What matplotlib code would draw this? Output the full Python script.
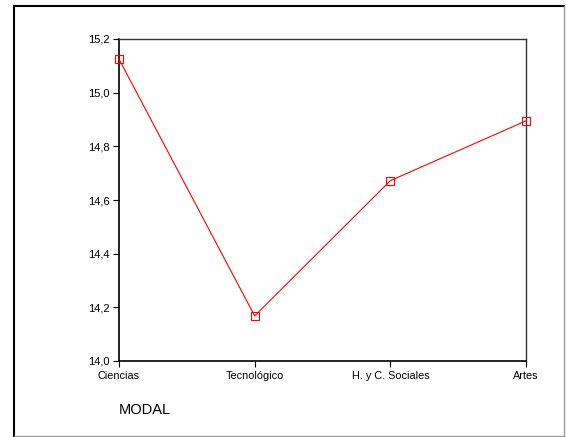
import matplotlib.pyplot as plt
from matplotlib.lines import Line2D

categorias = ["Ciencias", "Tecnológico", "H. y C. Sociales", "Artes"]
medias = [15.125, 14.168, 14.672, 14.895]
y_ticks = [14.0, 14.2, 14.4, 14.6, 14.8, 15.0, 15.2]

plt.rcParams["font.family"] = ["Liberation Sans", "DejaVu Sans"]

fig = plt.figure(figsize=(5.66, 4.37), dpi=100)
ax = fig.add_axes([119 / 566, 1 - 361 / 437, 407 / 566, 322 / 437])

x = list(range(len(categorias)))
ax.plot(x, medias, color="red", linewidth=0.8, marker="s", markersize=6,
        markerfacecolor="none", markeredgecolor="red", markeredgewidth=0.8,
        clip_on=False, zorder=5)

ax.set_xlim(0, 3)
ax.set_ylim(14.0, 15.2)
ax.set_xticks(x)
ax.set_xticklabels(categorias, fontsize=7.8)
ax.set_yticks(y_ticks)
ax.set_yticklabels([f"{v:.1f}".replace(".", ",") for v in y_ticks], fontsize=8)
ax.tick_params(direction="out", length=4, width=0.8, color="black", pad=3)

for side in ["left", "bottom"]:
    ax.spines[side].set_linewidth(1.2)
    ax.spines[side].set_color("black")
for side in ["top", "right"]:
    ax.spines[side].set_linewidth(1.0)
    ax.spines[side].set_color("#333333")

fig.text(119 / 566, 1 - 410 / 437, "MODAL", fontsize=10.5, va="center", ha="left")

# marco exterior
x0, x1 = 14 / 566, 564 / 566
y0, y1 = 1 - 436 / 437, 1 - 6 / 437
fig.add_artist(Line2D([x0, x1], [y1, y1], color="black", linewidth=1.5))
fig.add_artist(Line2D([x0, x0], [y0, y1], color="black", linewidth=1.5))
fig.add_artist(Line2D([x1, x1], [y0, y1], color="#999999", linewidth=1.0))
fig.add_artist(Line2D([x0, x1], [y0, y0], color="#999999", linewidth=1.0))

fig.savefig("out.png", dpi=100)
